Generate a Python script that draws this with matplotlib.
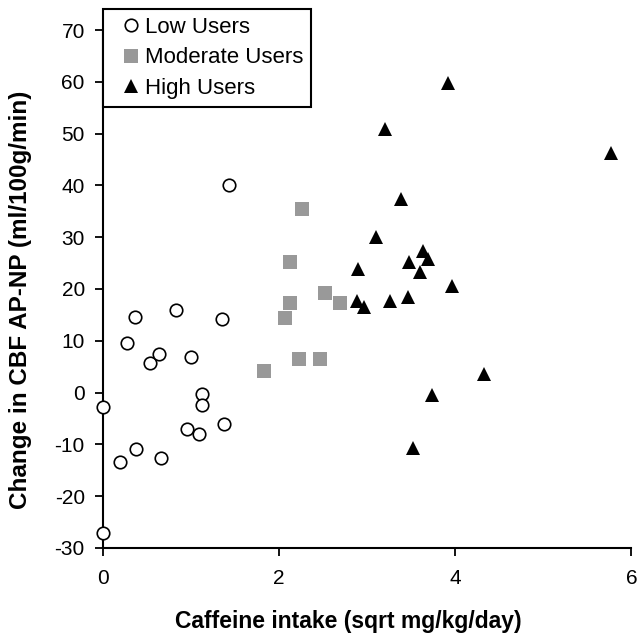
import matplotlib.pyplot as plt

plt.rcParams['font.family'] = ['Liberation Sans', 'DejaVu Sans']
plt.rcParams['axes.unicode_minus'] = False

# Low users
low_x = [0.0, 0.0, 0.19, 0.27, 0.36, 0.38, 0.54, 0.64, 0.66, 0.83, 0.96, 1.0, 1.09, 1.13, 1.13, 1.35, 1.37, 1.43]
low_y = [-2.8, -27.1, -13.4, 9.6, 14.6, -10.9, 5.7, 7.5, -12.6, 16.0, -7.0, 6.9, -8.1, -0.2, -2.5, 14.2, -6.0, 40.1]

# Moderate users
mod_x = [1.83, 2.07, 2.12, 2.12, 2.23, 2.26, 2.47, 2.52, 2.69]
mod_y = [4.1, 14.4, 25.2, 17.2, 6.4, 35.5, 6.4, 19.2, 17.2]

# High users
high_x = [2.89, 2.90, 2.96, 3.10, 3.20, 3.26, 3.38, 3.46, 3.48, 3.52, 3.60, 3.64, 3.69, 3.74, 3.92, 3.96, 4.33, 5.77]
high_y = [17.6, 23.9, 16.5, 30.0, 50.9, 17.6, 37.4, 18.4, 25.3, -10.7, 23.2, 27.4, 25.7, -0.4, 59.7, 20.5, 3.5, 46.3]

fig = plt.figure(figsize=(6.39, 6.40), dpi=100)
ax = fig.add_axes([0.161, 0.144, 0.827, 0.809])

ax.plot(low_x, low_y, 'o', ms=9, mfc='white', mec='black', mew=1.2,
        linestyle='none', label='Low Users', clip_on=False, zorder=3)
ax.plot(mod_x, mod_y, 's', ms=9.5, mfc='#999999', mec='#999999', mew=0,
        linestyle='none', label='Moderate Users', clip_on=False, zorder=3)
ax.plot(high_x, high_y, '^', ms=10, mfc='black', mec='black', mew=0,
        linestyle='none', label='High Users', clip_on=False, zorder=3)

ax.set_xlim(0, 6)
ax.set_ylim(-30, 70)
ax.set_xticks([0, 2, 4, 6])
ax.set_yticks(range(-30, 71, 10))

for s in ['top', 'right']:
    ax.spines[s].set_visible(False)
for s in ['left', 'bottom']:
    ax.spines[s].set_linewidth(1.5)

ax.tick_params(axis='both', direction='out', length=6, width=1.3, labelsize=15)
ax.tick_params(axis='y', pad=7)
ax.tick_params(axis='x', pad=9)

ax.set_xlabel('Caffeine intake (sqrt mg/kg/day)', fontsize=16.5, fontweight='bold')
ax.xaxis.set_label_coords(0.465, -0.12, transform=ax.transAxes)
ax.xaxis.label.set_va('top')
ax.set_ylabel('Change in CBF AP-NP (ml/100g/min)', fontsize=17.5, fontweight='bold')
ax.yaxis.set_label_coords(-0.135, 0.48, transform=ax.transAxes)

leg = ax.legend(loc='upper left', bbox_to_anchor=(0.0, 1.04), fontsize=16,
                frameon=True, fancybox=False, borderpad=0.35, labelspacing=0.42,
                handlelength=1.8, handletextpad=-0.25, borderaxespad=0, markerscale=1.0)
leg.get_frame().set_edgecolor('black')
leg.get_frame().set_linewidth(1.5)
leg.get_frame().set_alpha(1)

fig.savefig('out.png', dpi=100)
